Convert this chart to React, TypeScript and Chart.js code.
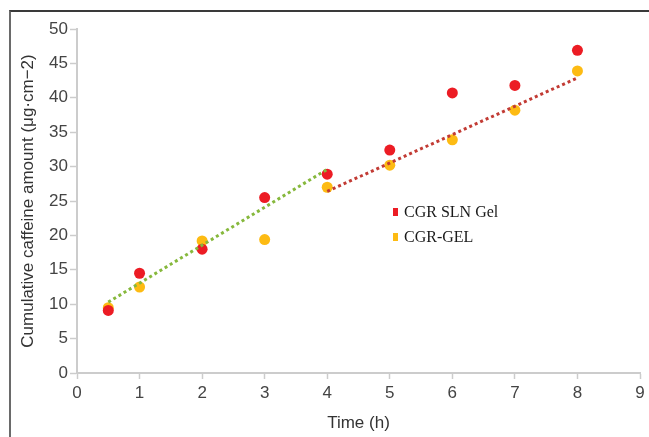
import React, { useEffect, useRef } from 'react';
import { Chart, registerables } from 'chart.js';

Chart.register(...registerables);

// Data
const timeH = [0.5, 1, 2, 3, 4, 5, 6, 7, 8];
const slnGel = [9.1, 14.5, 18.0, 25.5, 28.9, 32.4, 40.7, 41.8, 46.9];
const cgrGel = [9.5, 12.5, 19.2, 19.4, 27.0, 30.2, 33.9, 38.2, 43.9];
const greenTrendX = [0.5, 4];
const greenTrendY = [10.3, 29.6];
const redTrendX = [4, 8];
const redTrendY = [26.4, 42.9];
const legendLabels = ['CGR SLN Gel', 'CGR-GEL'];
const yTitle = 'Cumulative caffeine amount (μg·cm−2)';
const xTitle = 'Time (h)';

const RED = '#ec1c24';
const YELLOW = '#fdbb13';
const GREEN = '#86b83c';
const DARKRED = '#c23b34';

const toPts = (xs: number[], ys: number[]) => xs.map((x, i) => ({ x, y: ys[i] }));

const legendPlugin = {
  id: 'customLegend',
  afterDraw(chart: any) {
    const { ctx, chartArea } = chart;
    const colors = [RED, YELLOW];
    ctx.save();
    ctx.font = '16px "Liberation Serif", "Times New Roman", serif';
    ctx.textBaseline = 'middle';
    ctx.textAlign = 'left';
    legendLabels.forEach((lab, i) => {
      const x = chartArea.left + 316;
      const y = chartArea.top + 183 + i * 25;
      ctx.fillStyle = colors[i];
      ctx.fillRect(x, y - 4, 5, 8);
      ctx.fillStyle = '#1a1a1a';
      ctx.fillText(lab, x + 11, y + 1);
    });
    ctx.restore();
  },
};

export default function App() {
  const ref = useRef<HTMLCanvasElement>(null);
  useEffect(() => {
    if (!ref.current) return;
    const tickFont = { family: '"Liberation Sans", Arial, sans-serif', size: 17 };
    const chart = new Chart(ref.current, {
      type: 'scatter',
      data: {
        datasets: [
          {
            type: 'line',
            label: 'trend1',
            data: toPts(greenTrendX, greenTrendY),
            borderColor: GREEN,
            borderWidth: 3,
            borderDash: [3, 3],
            pointRadius: 0,
            fill: false,
          } as any,
          {
            type: 'line',
            label: 'trend2',
            data: toPts(redTrendX, redTrendY),
            borderColor: DARKRED,
            borderWidth: 3,
            borderDash: [3, 3],
            pointRadius: 0,
            fill: false,
          } as any,
          {
            label: legendLabels[0],
            data: toPts(timeH, slnGel),
            backgroundColor: RED,
            borderWidth: 0,
            pointRadius: 5.5,
          },
          {
            label: legendLabels[1],
            data: toPts(timeH, cgrGel),
            backgroundColor: YELLOW,
            borderWidth: 0,
            pointRadius: 5.5,
          },
        ],
      },
      options: {
        responsive: false,
        animation: false,
        devicePixelRatio: 1,
        layout: { padding: { left: 0, top: 29, right: 9, bottom: 0 } },
        plugins: { legend: { display: false }, tooltip: { enabled: false } },
        scales: {
          x: {
            type: 'linear',
            min: 0,
            max: 9,
            afterFit: (s: any) => { s.height = 64; },
            ticks: { stepSize: 1, color: '#444', font: tickFont, padding: 4, maxRotation: 0 },
            grid: { drawOnChartArea: false, drawTicks: true, tickLength: 6, tickColor: '#ccc', tickWidth: 1.5 },
            border: { color: '#ccc', width: 2 },
            title: {
              display: true,
              text: xTitle,
              color: '#333',
              font: { family: '"Liberation Sans", Arial, sans-serif', size: 17 },
              padding: { top: 0, bottom: 3 },
            },
          },
          y: {
            type: 'linear',
            min: 0,
            max: 50,
            afterFit: (s: any) => { s.width = 77; },
            ticks: { stepSize: 5, color: '#444', font: tickFont, padding: 2 },
            grid: { drawOnChartArea: false, drawTicks: true, tickLength: 7, tickColor: '#ccc', tickWidth: 1.5 },
            border: { color: '#ccc', width: 2 },
            title: {
              display: true,
              text: yTitle,
              color: '#333',
              font: { family: '"Liberation Sans", Arial, sans-serif', size: 17 },
              padding: { top: 18, bottom: 0 },
            },
          },
        },
      },
      plugins: [legendPlugin],
    });
    return () => chart.destroy();
  }, []);

  return (
    <div style={{ position: 'absolute', left: 0, top: 0, width: 649, height: 437, background: '#fff', overflow: 'hidden' }}>
      <div
        style={{
          position: 'absolute',
          left: 9,
          top: 10,
          width: 660,
          height: 440,
          borderTop: '2px solid #3a3a3a',
          borderLeft: '2px solid #6a6a6a',
        }}
      />
      <canvas ref={ref} width={649} height={437} style={{ position: 'absolute', left: 0, top: 0, width: 649, height: 437 }} />
    </div>
  );
}
